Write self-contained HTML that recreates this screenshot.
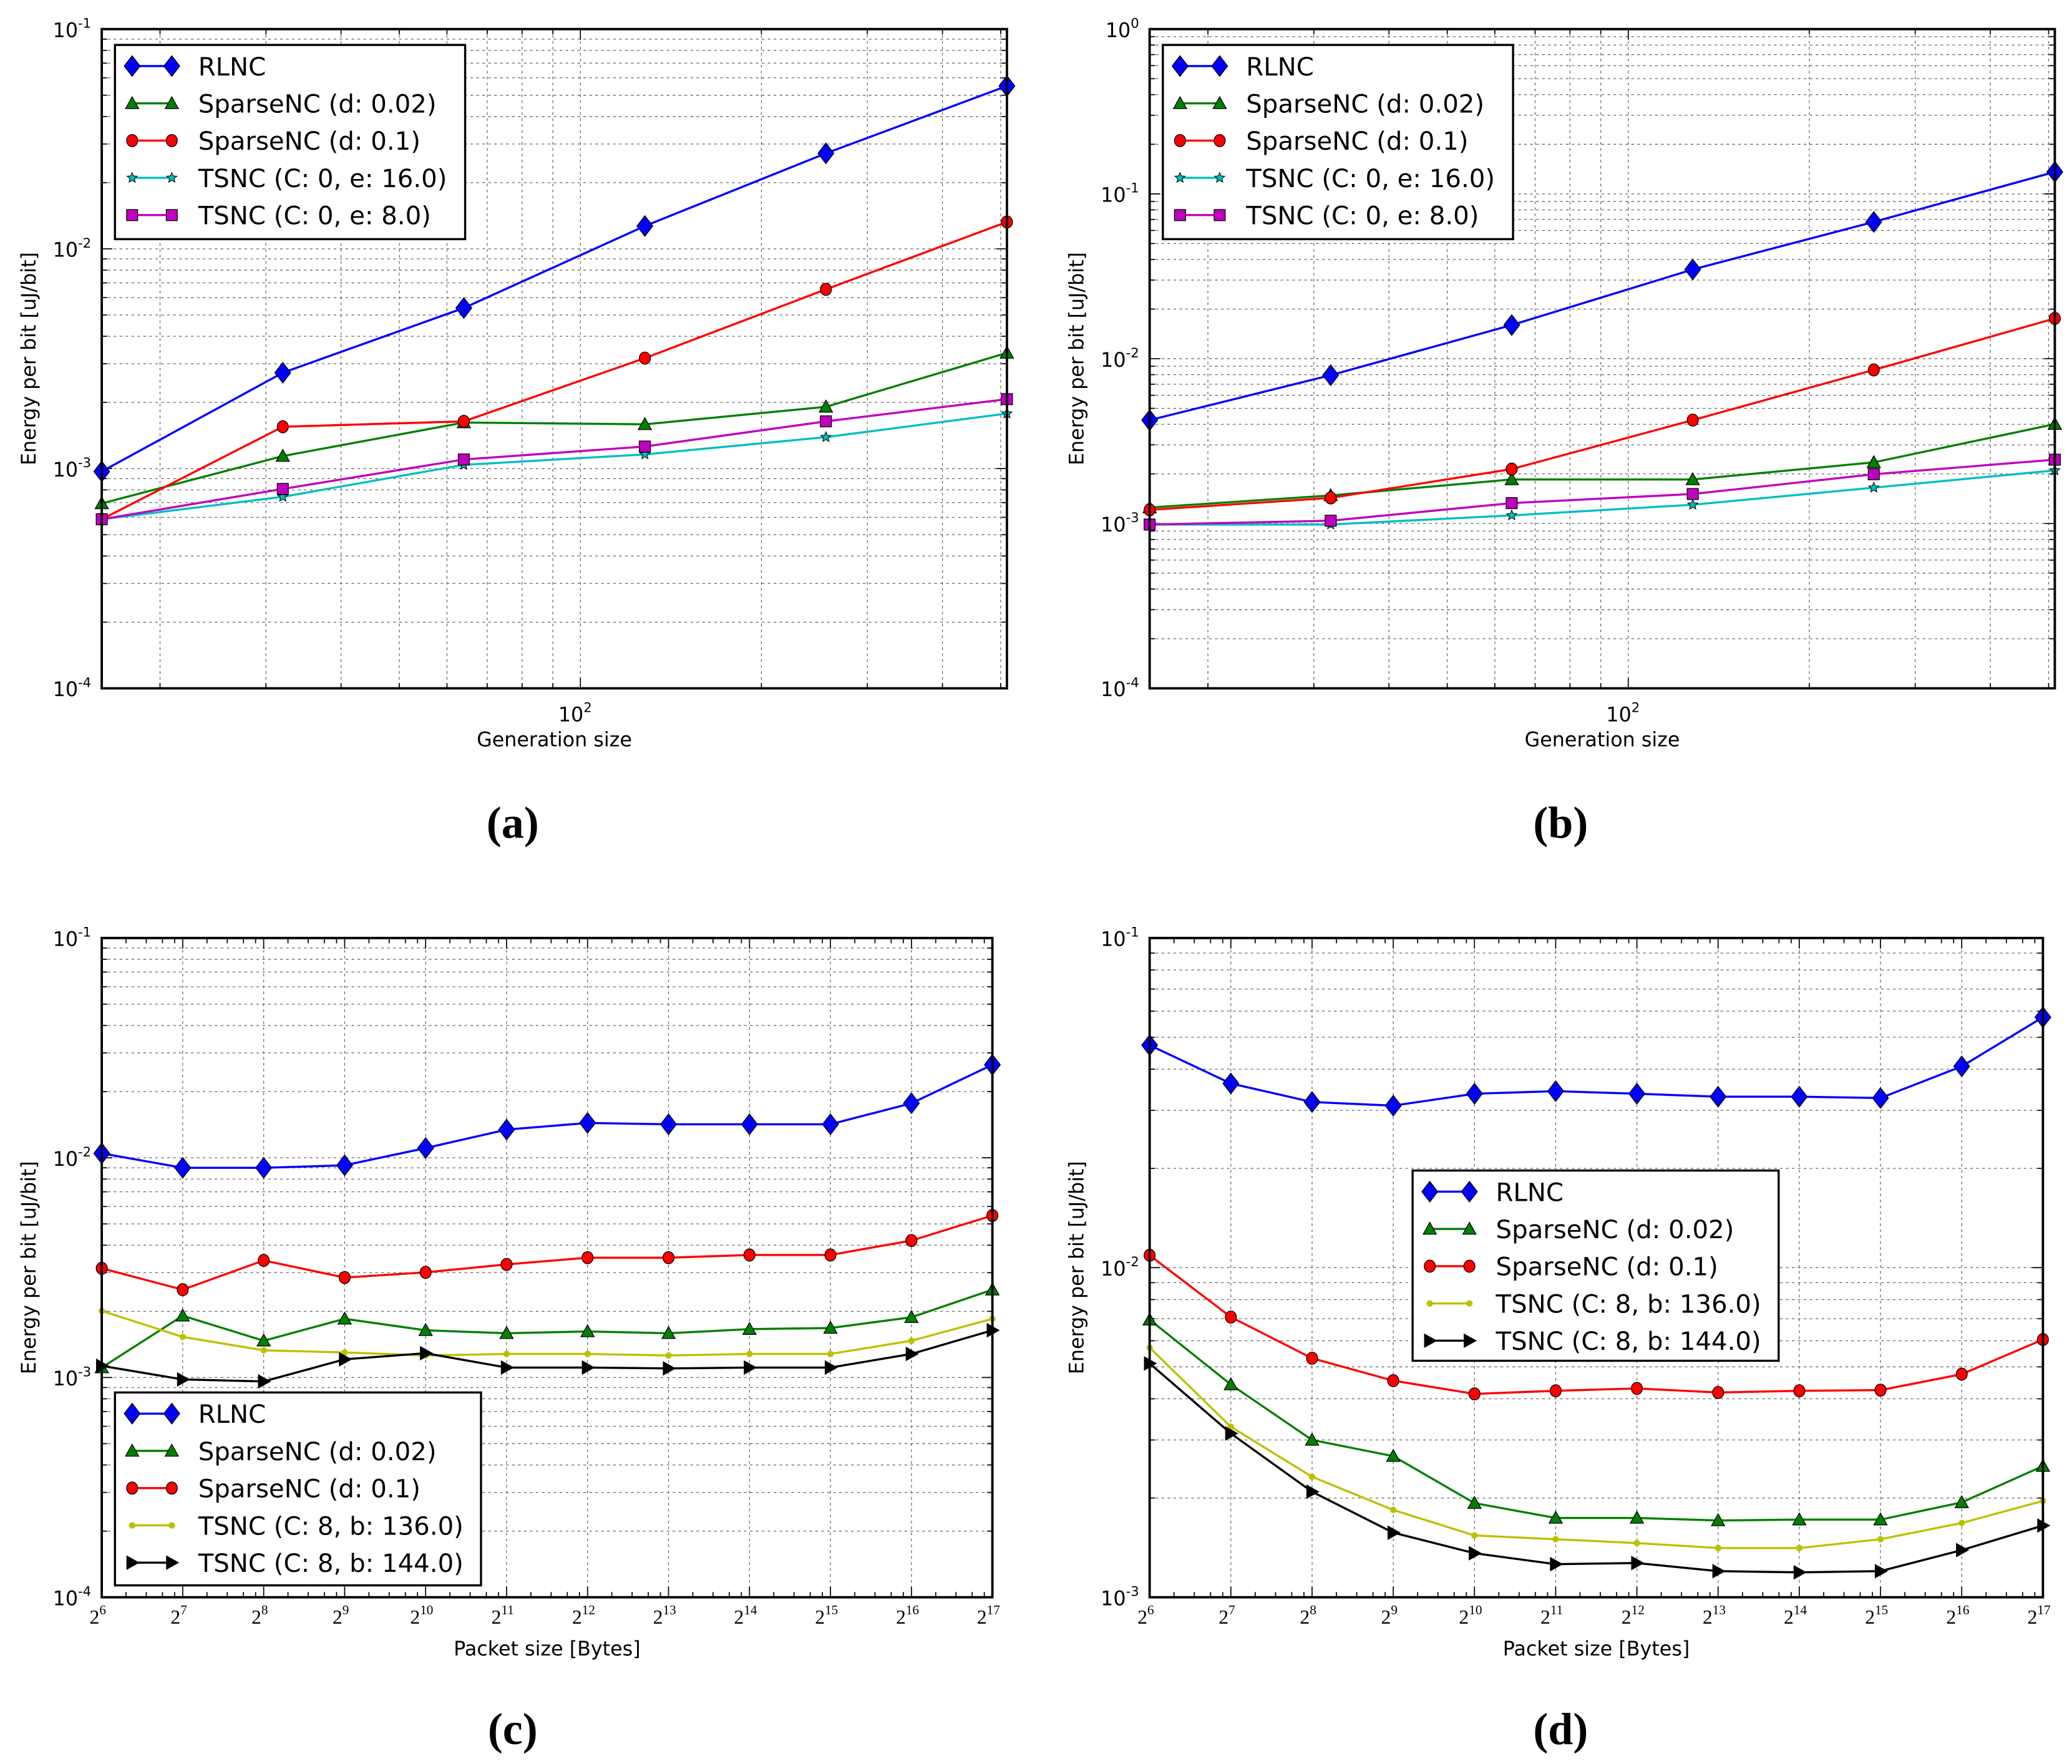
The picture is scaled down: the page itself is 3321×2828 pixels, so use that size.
<!DOCTYPE html>
<html><head><meta charset="utf-8">
<style>
html,body{margin:0;padding:0;background:#fff;}
svg{display:block;}
text{font-family:"DejaVu Sans","Liberation Sans",sans-serif;}
.cap{font-family:"Liberation Serif",serif;font-weight:bold;}
</style></head>
<body>
<svg id="fig" width="3321" height="2828" viewBox="0 0 1568 1335.2" xmlns="http://www.w3.org/2000/svg"></svg>
<script>
const labelsA = ["RLNC","SparseNC (d: 0.02)","SparseNC (d: 0.1)","TSNC (C: 0, e: 16.0)","TSNC (C: 0, e: 8.0)"];
const labelsC = ["RLNC","SparseNC (d: 0.02)","SparseNC (d: 0.1)","TSNC (C: 8, b: 136.0)","TSNC (C: 8, b: 144.0)"];
const genSizes = [16,32,64,128,256,512];
const pktExp = [6,7,8,9,10,11,12,13,14,15,16,17];

const aRLNC = [0.00097,0.00273,0.00538,0.0127,0.0272,0.0551];
const aS002 = [0.000694,0.00114,0.00162,0.00159,0.00191,0.00336];
const aS01  = [0.000588,0.00155,0.00164,0.00318,0.00654,0.01325];
const aT16  = [0.000588,0.000744,0.00104,0.00116,0.00139,0.00178];
const aT8   = [0.000588,0.000808,0.0011,0.00126,0.00164,0.00207];

const bRLNC = [0.00424,0.00794,0.016,0.0348,0.0676,0.136];
const bS002 = [0.00125,0.00148,0.00185,0.00185,0.00235,0.00401];
const bS01  = [0.00121,0.00143,0.00214,0.00424,0.00855,0.01755];
const bT16  = [0.000986,0.000986,0.00112,0.0013,0.00165,0.0021];
const bT8   = [0.000986,0.00104,0.00133,0.00151,0.00199,0.00244];

const cRLNC = [0.01047,0.0090,0.0090,0.00924,0.01107,0.01343,0.0144,0.0142,0.0142,0.0142,0.0177,0.0265];
const cS002 = [0.00111,0.00191,0.00147,0.00185,0.00164,0.00159,0.00162,0.00159,0.00166,0.00168,0.00188,0.00251];
const cS01  = [0.00314,0.00251,0.00341,0.00285,0.00301,0.00327,0.00351,0.00351,0.00361,0.00361,0.0042,0.00546];
const cT136 = [0.00201,0.00153,0.00133,0.0013,0.00126,0.00128,0.00128,0.00126,0.00128,0.00128,0.00147,0.00185];
const cT144 = [0.00113,0.00098,0.00096,0.00121,0.00129,0.00111,0.00111,0.0011,0.00111,0.00111,0.00128,0.00164];

const dRLNC = [0.0473,0.0362,0.0318,0.031,0.0337,0.0343,0.0337,0.033,0.033,0.0327,0.0408,0.0575];
const dS002 = [0.00695,0.00442,0.003,0.00268,0.00193,0.00174,0.00174,0.00171,0.00172,0.00172,0.00194,0.0025];
const dS01  = [0.0109,0.00708,0.00531,0.00454,0.00414,0.00423,0.0043,0.00418,0.00423,0.00425,0.00475,0.00605];
const dT136 = [0.00572,0.00329,0.00232,0.00184,0.00154,0.0015,0.00146,0.00141,0.00141,0.0015,0.00168,0.00196];
const dT144 = [0.00512,0.00314,0.00209,0.00157,0.00136,0.00126,0.00127,0.0012,0.00119,0.0012,0.00139,0.00165];

const NS="http://www.w3.org/2000/svg";
const fig=document.getElementById('fig');
function el(tag,attrs,parent){const e=document.createElementNS(NS,tag);for(const k in attrs)e.setAttribute(k,attrs[k]);(parent||fig).appendChild(e);return e;}

const styles={
 blue:{c:"#0000ff",m:"diamond",s:6},
 green:{c:"#008000",m:"tri",s:5},
 red:{c:"#ff0000",m:"circle",s:4.2},
 cyan:{c:"#00bfbf",m:"star",s:4},
 magenta:{c:"#bf00bf",m:"square",s:4.2},
 yellow:{c:"#bfbf00",m:"dot",s:2.2},
 black:{c:"#000000",m:"right",s:5}
};
function marker(g,kind,x,y,st){
 const s=st.s,c=st.c;let e;
 if(kind==="diamond") e=el('polygon',{points:`${x},${y-s*1.3} ${x+s},${y} ${x},${y+s*1.3} ${x-s},${y}`,fill:c,stroke:"#000","stroke-width":0.6},g);
 else if(kind==="tri") e=el('polygon',{points:`${x},${y-s} ${x+s},${y+s*0.8} ${x-s},${y+s*0.8}`,fill:c,stroke:"#000","stroke-width":0.6},g);
 else if(kind==="circle") e=el('ellipse',{cx:x,cy:y,rx:s,ry:s*1.1,fill:c,stroke:"#000","stroke-width":0.6},g);
 else if(kind==="square") e=el('rect',{x:x-s,y:y-s,width:2*s,height:2*s,fill:c,stroke:"#000","stroke-width":0.6},g);
 else if(kind==="dot") e=el('circle',{cx:x,cy:y,r:s,fill:c,stroke:c,"stroke-width":0.5},g);
 else if(kind==="right") e=el('polygon',{points:`${x-s*0.8},${y-s} ${x+s},${y} ${x-s*0.8},${y+s}`,fill:c,stroke:"#000","stroke-width":0.6},g);
 else if(kind==="star"){let p=[];for(let i=0;i<10;i++){const r=i%2?s*0.45:s;const a=-Math.PI/2+i*Math.PI/5;p.push((x+r*Math.cos(a)).toFixed(2)+","+(y+r*Math.sin(a)).toFixed(2));}
  e=el('polygon',{points:p.join(" "),fill:c,stroke:"#000","stroke-width":0.5},g);}
 
 
}

function panel(cfg){
 const g=el('g',{});
 
 
 const {L,R,T,B,ymin,ymax}=cfg;
 const ly=v=>B-(Math.log10(v)-ymin)/(ymax-ymin)*(B-T);
 const lx=cfg.xScale;
 // grid
 const gg=el('g',{stroke:"#666","stroke-width":0.6,"stroke-dasharray":"2,2.5"},g);
 
 
 for(let d=ymin;d<ymax;d++){for(let k=1;k<10;k++){const v=k*Math.pow(10,d);const y=ly(v);if(y>=B||y<=T)continue;el('line',{x1:L,x2:R,y1:y,y2:y},gg);}}
 cfg.xGrid.forEach(x=>{if(x>L+0.5&&x<R-0.5)el('line',{x1:x,x2:x,y1:T,y2:B},gg);});
 // ticks
 const tg=el('g',{stroke:"#000","stroke-width":0.8},g);
 for(let d=ymin;d<=ymax;d++){for(let k=1;k<10;k++){const v=k*Math.pow(10,d);const y=ly(v);if(y>B+0.1||y<T-0.1)continue;const len=k===1?8:4;
  el('line',{x1:L,x2:L+len,y1:y,y2:y},tg);el('line',{x1:R,x2:R-len,y1:y,y2:y},tg);if(d===ymax)break;}}
 cfg.xMajor.forEach(x=>{el('line',{x1:x,x2:x,y1:B,y2:B-8},tg);el('line',{x1:x,x2:x,y1:T,y2:T+8},tg);});
 cfg.xMinor.forEach(x=>{el('line',{x1:x,x2:x,y1:B,y2:B-4},tg);el('line',{x1:x,x2:x,y1:T,y2:T+4},tg);});
 // y labels
 for(let d=ymin;d<=ymax;d++){const y=ly(Math.pow(10,d));
  const t=el('text',{x:L-8,y:y+6,"text-anchor":"end","font-size":15},g);
  
  
  t.textContent="10";const sp=el('tspan',{dy:-7,"font-size":10},t);sp.textContent=String(d);}
 cfg.xLabels(g);
 // axis titles
 const xt=el('text',{x:(L+R)/2,y:B+44,"text-anchor":"middle","font-size":15},g);
 
 
 xt.textContent=cfg.xTitle;
 const yt=el('text',{x:0,y:0,"text-anchor":"middle","font-size":15,transform:`translate(${L-50},${(T+B)/2}) rotate(-90)`},g);
 
 
 yt.textContent="Energy per bit [uJ/bit]";
 // series
 const cp=el('clipPath',{id:'clip'+cfg.id},g);el('rect',{x:L-8,y:T-8,width:R-L+16,height:B-T+16},cp);
 cfg.series.forEach((s,i)=>{
  const st=styles[s.style];
  const sg=el('g',{"clip-path":`url(#clip${cfg.id})`},g);
  
  
  const pts=s.vals.map((v,j)=>[lx(cfg.xs[j]),ly(v)]);
  const pl=el('polyline',{points:pts.map(p=>p[0].toFixed(2)+","+p[1].toFixed(2)).join(" "),fill:"none",stroke:st.c,"stroke-width":1.6},sg);
  
  
  pts.forEach(p=>marker(sg,st.m,p[0],p[1],st));
 });
 // frame
 const fr=el('rect',{x:L,y:T,width:R-L,height:B-T,fill:"none",stroke:"#000","stroke-width":1.8},g);
 
 
 // legend
 const lg=cfg.legend;
 const lgg=el('g',{},g);
 
 
 el('rect',{x:lg.x,y:lg.y,width:lg.w,height:lg.h,fill:"#fff",stroke:"#000","stroke-width":1.6},lgg);
 cfg.series.forEach((s,i)=>{
  const st=styles[s.style];const yy=lg.y+16+i*28.2;
  const eg=el('g',{},lgg);
  
  
  el('line',{x1:lg.x+13,x2:lg.x+43,y1:yy,y2:yy,stroke:st.c,"stroke-width":1.6},eg);
  marker(eg,st.m,lg.x+13,yy,st);marker(eg,st.m,lg.x+43,yy,st);
  const t=el('text',{x:lg.x+63,y:yy+7,"font-size":19},eg);t.textContent=cfg.labels[i];
 });
 // caption
 const c=el('text',{x:cfg.capX,y:cfg.capY,"text-anchor":"middle","font-size":34,class:"cap"},g);
 
 
 c.textContent=cfg.cap;
}

function genPanel(id,L,R,ymin,ymax,series,cap,capX){
 const x0=Math.log10(16),x1=Math.log10(512);
 const lx=v=>L+(Math.log10(v)-x0)/(x1-x0)*(R-L);
 const minor=[20,30,40,50,60,70,80,90,200,300,400,500].map(lx);
 panel({id,L,R,T:22,B:521,ymin,ymax,xScale:lx,xs:genSizes,xGrid:minor.concat([lx(100)]),xMajor:[lx(100)],xMinor:minor,
  xLabels:g=>{const t=el('text',{x:lx(100)-4,y:546,"text-anchor":"middle","font-size":15},g);
   
   
   t.textContent="10";const sp=el('tspan',{dy:-7,"font-size":10},t);sp.textContent="2";},
  xTitle:"Generation size",series,labels:labelsA,legend:{x:L+10,y:34,w:265,h:147},cap,capX,capY:634});
}
function pktPanel(id,L,R,ymin,ymax,series,legend,cap,capX){
 const lx=e=>L+(e-6)/11*(R-L);
 const major=pktExp.map(lx);
 const minor=[];for(let e=6;e<17;e++){[0.3,0.55,0.75,0.9].forEach(f=>minor.push(lx(e+f)));}
 panel({id,L,R,T:710,B:1209,ymin,ymax,xScale:lx,xs:pktExp,xGrid:major,xMajor:major,xMinor:minor,
  xLabels:g=>{pktExp.forEach(e=>{const t=el('text',{x:lx(e)-3,y:1229,"text-anchor":"middle","font-size":15,style:"font-family:'Liberation Serif',serif"},g);
   
   
   t.textContent="2";const sp=el('tspan',{dy:-7,"font-size":10},t);sp.textContent=String(e);});},
  xTitle:"Packet size [Bytes]",series,labels:labelsC,legend,cap,capX,capY:1320});
}

genPanel('a',77,762,-4,-1,[{style:'blue',vals:aRLNC},{style:'green',vals:aS002},{style:'red',vals:aS01},{style:'cyan',vals:aT16},{style:'magenta',vals:aT8}],"(a)",388);
genPanel('b',870,1555,-4,0,[{style:'blue',vals:bRLNC},{style:'green',vals:bS002},{style:'red',vals:bS01},{style:'cyan',vals:bT16},{style:'magenta',vals:bT8}],"(b)",1181);
pktPanel('c',77,751,-4,-1,[{style:'blue',vals:cRLNC},{style:'green',vals:cS002},{style:'red',vals:cS01},{style:'yellow',vals:cT136},{style:'black',vals:cT144}],{x:87,y:1054,w:277,h:146},"(c)",388);
pktPanel('d',870,1546,-3,-1,[{style:'blue',vals:dRLNC},{style:'green',vals:dS002},{style:'red',vals:dS01},{style:'yellow',vals:dT136},{style:'black',vals:dT144}],{x:1069,y:886,w:277,h:144},"(d)",1181);
</script>
</body></html>
